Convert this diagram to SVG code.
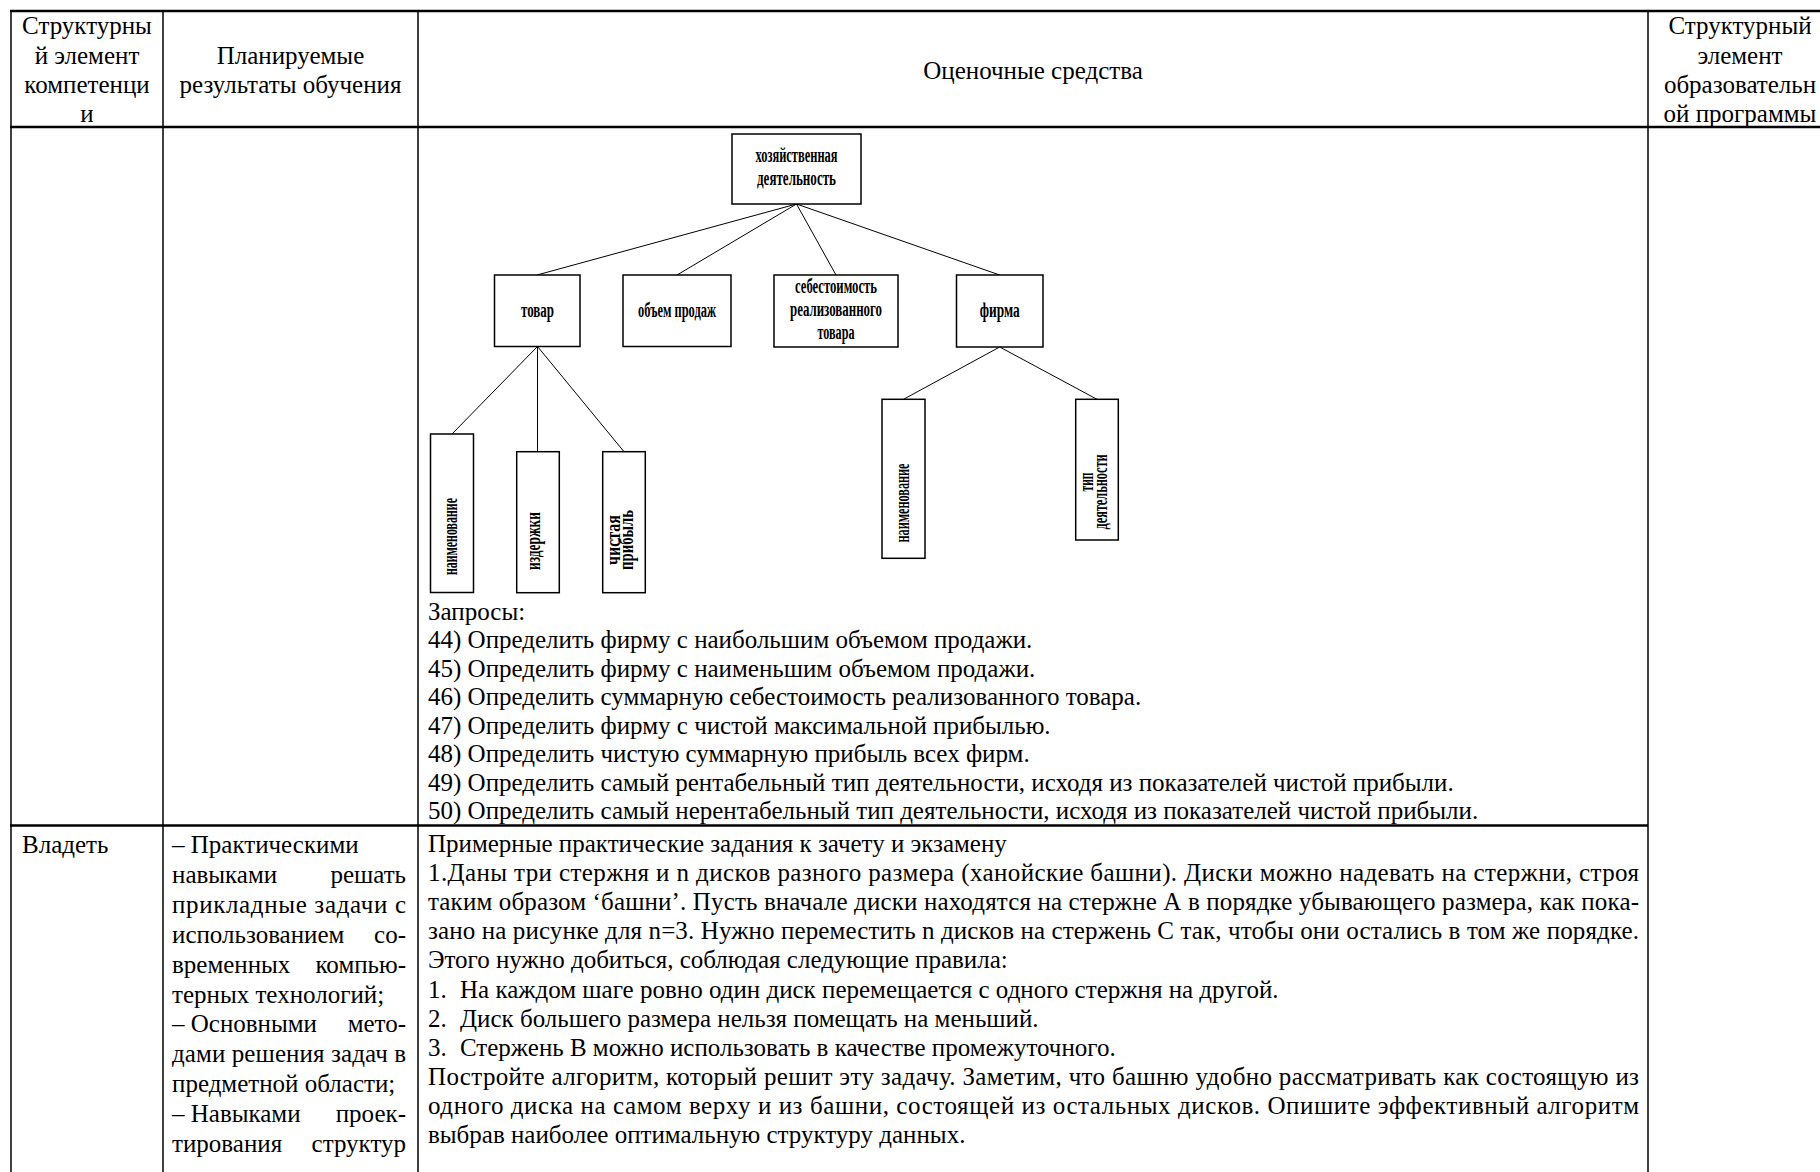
<svg xmlns="http://www.w3.org/2000/svg" width="1820" height="1172" viewBox="0 0 1820 1172">
<defs>
<style>
.t{font-family:"Liberation Serif","Times New Roman",serif;font-size:25px;fill:#000}
.c{text-anchor:middle}
.e{text-anchor:end}
.b{font-family:"Liberation Serif","Times New Roman",serif;font-weight:bold;font-size:20px;fill:#000;text-anchor:middle}
.v{font-size:22px}
.box{fill:#fff;stroke:#000;stroke-width:1.5}
.ln{stroke:#000;stroke-width:1;fill:none}
.hl{stroke:#000;stroke-width:2.5}
.vl{stroke:#000;stroke-width:1.5}
</style>
</defs>
<rect x="0" y="0" width="1820" height="1172" fill="#fff"/>
<g id="table">
<line class="hl" x1="10" y1="11" x2="1820" y2="11"/>
<line class="hl" x1="10" y1="127" x2="1820" y2="127"/>
<line class="hl" x1="10" y1="825.5" x2="1648" y2="825.5"/>
<line class="vl" x1="11" y1="10" x2="11" y2="1172"/>
<line class="vl" x1="163" y1="10" x2="163" y2="1172"/>
<line class="vl" x1="418" y1="10" x2="418" y2="1172"/>
<line class="vl" x1="1648" y1="10" x2="1648" y2="1172"/>
</g>
<g id="header">
<text class="t c" x="87" y="33.5">Структурны</text>
<text class="t c" x="87" y="63.5">й элемент</text>
<text class="t c" x="87" y="93">компетенци</text>
<text class="t c" x="87" y="121.5">и</text>
<text class="t c" x="290.5" y="64">Планируемые</text>
<text class="t c" x="290.5" y="93">результаты обучения</text>
<text class="t c" x="1033" y="79">Оценочные средства</text>
<text class="t c" x="1740" y="33.5">Структурный</text>
<text class="t c" x="1740" y="63.5">элемент</text>
<text class="t c" x="1740" y="93">образовательн</text>
<text class="t c" x="1740" y="121.5">ой программы</text>
</g>
<g id="connectors">
<line class="ln" x1="796.5" y1="204" x2="537" y2="275"/>
<line class="ln" x1="796.5" y1="204" x2="677" y2="275"/>
<line class="ln" x1="796.5" y1="204" x2="836" y2="275"/>
<line class="ln" x1="796.5" y1="204" x2="999.7" y2="275"/>
<line class="ln" x1="537.5" y1="346.5" x2="452" y2="434"/>
<line class="ln" x1="537.5" y1="346.5" x2="537.5" y2="451.7"/>
<line class="ln" x1="537.5" y1="346.5" x2="624" y2="451.7"/>
<line class="ln" x1="999.7" y1="347" x2="903.5" y2="399.3"/>
<line class="ln" x1="999.7" y1="347" x2="1097" y2="399.3"/>
</g>
<g id="node-root">
<rect class="box" x="732" y="134" width="129" height="70"/>
<text class="b" x="796.5" y="162" textLength="82" lengthAdjust="spacingAndGlyphs">хозяйственная</text>
<text class="b" x="796.5" y="185" textLength="79" lengthAdjust="spacingAndGlyphs">деятельность</text>
</g>
<g id="node-tovar">
<rect class="box" x="494.5" y="275" width="85.5" height="71.5"/>
<text class="b" x="537.5" y="316.5" textLength="33" lengthAdjust="spacingAndGlyphs">товар</text>
</g>
<g id="node-obem">
<rect class="box" x="623" y="275" width="108" height="71.5"/>
<text class="b" x="677" y="316.5" textLength="78" lengthAdjust="spacingAndGlyphs">объем продаж</text>
</g>
<g id="node-sebest">
<rect class="box" x="774" y="275" width="124" height="72"/>
<text class="b" x="836" y="292.5" textLength="82" lengthAdjust="spacingAndGlyphs">себестоимость</text>
<text class="b" x="836" y="315.5" textLength="92" lengthAdjust="spacingAndGlyphs">реализованного</text>
<text class="b" x="836" y="338.5" textLength="37" lengthAdjust="spacingAndGlyphs">товара</text>
</g>
<g id="node-firma">
<rect class="box" x="956.5" y="275" width="86.5" height="72"/>
<text class="b" x="999.7" y="317" textLength="40" lengthAdjust="spacingAndGlyphs">фирма</text>
</g>
<g id="node-naim1">
<rect class="box" x="430.5" y="434" width="43" height="158.5"/>
<text class="b v" transform="translate(456.5,536.5) rotate(-90)" x="0" y="0" textLength="77" lengthAdjust="spacingAndGlyphs">наименование</text>
</g>
<g id="node-izderzhki">
<rect class="box" x="516.7" y="451.7" width="42.6" height="141"/>
<text class="b v" transform="translate(540,541) rotate(-90)" x="0" y="0" textLength="58" lengthAdjust="spacingAndGlyphs">издержки</text>
</g>
<g id="node-pribyl">
<rect class="box" x="602.7" y="451.7" width="42.6" height="141"/>
<text class="b v" transform="translate(620,540) rotate(-90)" x="0" y="0" textLength="50" lengthAdjust="spacingAndGlyphs">чистая</text>
<text class="b v" transform="translate(633,540) rotate(-90)" x="0" y="0" textLength="60" lengthAdjust="spacingAndGlyphs">прибыль</text>
</g>
<g id="node-naim2">
<rect class="box" x="882" y="399.3" width="43" height="159"/>
<text class="b v" transform="translate(908.5,503) rotate(-90)" x="0" y="0" textLength="79" lengthAdjust="spacingAndGlyphs">наименование</text>
</g>
<g id="node-tip">
<rect class="box" x="1075.7" y="399.3" width="42.6" height="140.7"/>
<text class="b v" transform="translate(1093,482) rotate(-90)" x="0" y="0" textLength="19" lengthAdjust="spacingAndGlyphs">тип</text>
<text class="b v" transform="translate(1107,492) rotate(-90)" x="0" y="0" textLength="75" lengthAdjust="spacingAndGlyphs">деятельности</text>
</g>
<g id="queries">
<text class="t" x="428" y="619.5">Запросы:</text>
<text class="t" x="428" y="648">44) Определить фирму с наибольшим объемом продажи.</text>
<text class="t" x="428" y="676.5">45) Определить фирму с наименьшим объемом продажи.</text>
<text class="t" x="428" y="705">46) Определить суммарную себестоимость реализованного товара.</text>
<text class="t" x="428" y="733.5">47) Определить фирму с чистой максимальной прибылью.</text>
<text class="t" x="428" y="762">48) Определить чистую суммарную прибыль всех фирм.</text>
<text class="t" x="428" y="790.5">49) Определить самый рентабельный тип деятельности, исходя из показателей чистой прибыли.</text>
<text class="t" x="428" y="819">50) Определить самый нерентабельный тип деятельности, исходя из показателей чистой прибыли.</text>
</g>
<g id="row3-col1">
<text class="t" x="22" y="853">Владеть</text>
</g>
<g id="row3-col2">
<text class="t" x="172" y="853">– Практическими</text>
<text class="t" x="172" y="882.9">навыками</text><text class="t e" x="406" y="882.9">решать</text>
<text class="t" x="172" y="912.8" textLength="234" lengthAdjust="spacing">прикладные задачи с</text>
<text class="t" x="172" y="942.7">использованием</text><text class="t e" x="406" y="942.7">со-</text>
<text class="t" x="172" y="972.6">временных</text><text class="t e" x="406" y="972.6">компью-</text>
<text class="t" x="172" y="1002.5">терных технологий;</text>
<text class="t" x="172" y="1032.4">– Основными</text><text class="t e" x="406" y="1032.4">мето-</text>
<text class="t" x="172" y="1062.3" textLength="234" lengthAdjust="spacing">дами решения задач в</text>
<text class="t" x="172" y="1092.2">предметной области;</text>
<text class="t" x="172" y="1122.1">– Навыками</text><text class="t e" x="406" y="1122.1">проек-</text>
<text class="t" x="172" y="1152">тирования</text><text class="t e" x="406" y="1152">структур</text>
</g>
<g id="row3-col3">
<text class="t" x="428" y="852">Примерные практические задания к зачету и экзамену</text>
<text class="t" x="428" y="881.1" textLength="1211" lengthAdjust="spacing">1.Даны три стержня и n дисков разного размера (ханойские башни). Диски можно надевать на стержни, строя</text>
<text class="t" x="428" y="910.2" textLength="1211" lengthAdjust="spacing">таким образом ‘башни’. Пусть вначале диски находятся на стержне А в порядке убывающего размера, как пока-</text>
<text class="t" x="428" y="939.3" textLength="1211" lengthAdjust="spacing">зано на рисунке для n=3. Нужно переместить n дисков на стержень С так, чтобы они остались в том же порядке.</text>
<text class="t" x="428" y="968.4">Этого нужно добиться, соблюдая следующие правила:</text>
<text class="t" x="428" y="997.5">1.</text><text class="t" x="460" y="997.5">На каждом шаге ровно один диск перемещается с одного стержня на другой.</text>
<text class="t" x="428" y="1026.6">2.</text><text class="t" x="460" y="1026.6">Диск большего размера нельзя помещать на меньший.</text>
<text class="t" x="428" y="1055.7">3.</text><text class="t" x="460" y="1055.7">Стержень В можно использовать в качестве промежуточного.</text>
<text class="t" x="428" y="1084.8" textLength="1211" lengthAdjust="spacing">Постройте алгоритм, который решит эту задачу. Заметим, что башню удобно рассматривать как состоящую из</text>
<text class="t" x="428" y="1113.9" textLength="1211" lengthAdjust="spacing">одного диска на самом верху и из башни, состоящей из остальных дисков. Опишите эффективный алгоритм</text>
<text class="t" x="428" y="1143">выбрав наиболее оптимальную структуру данных.</text>
</g>
</svg>
